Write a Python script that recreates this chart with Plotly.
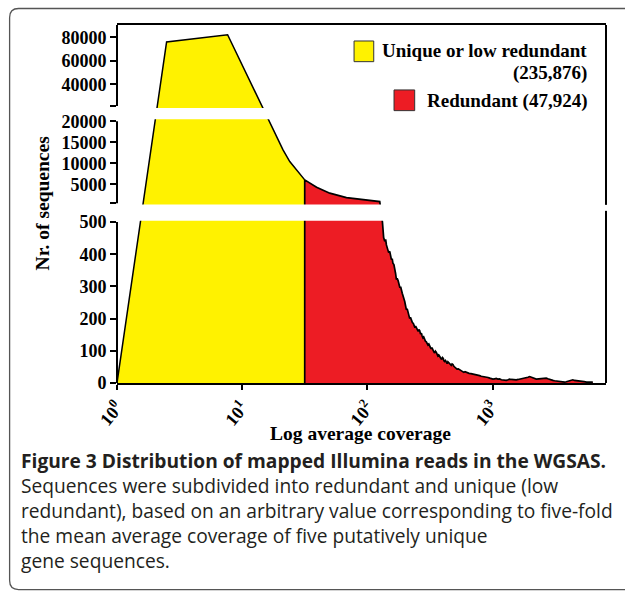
import plotly.graph_objects as go

# ---------------- data ----------------
THRESHOLD = 31.6  # coverage separating unique/low redundant from redundant

unique_cov = [1.0, 2.49, 7.65, 18.2, 21.2, 24.0, 28.0, 31.6]
unique_cnt = [0, 76000, 82200, 17500, 13190, 10405, 8024, 6048]

redundant_cov = [
    31.6, 39.3, 50.1, 68.1, 92.4, 125.6, 132, 135, 137.7, 140,
    142, 145, 148, 151, 155.7, 158, 160, 163, 165.5, 168,
    170.7, 173, 176, 179, 182, 184.5, 187.1, 190, 193, 196,
    198.9, 202, 205.1, 208, 212, 215, 218, 221, 224.9, 229,
    233, 236, 240, 243, 246.5, 251, 255, 258, 262, 266,
    270.3, 274, 278, 282, 287.2, 291, 296, 300, 305, 310,
    314.8, 318, 323, 328, 334, 340, 345.1, 350, 355, 360,
    366, 372, 378.3, 385, 392, 398, 404, 409, 414.7, 421,
    428, 434, 440, 447, 454.6, 461, 468, 475, 483.1, 491,
    500, 510, 520, 533, 546.3, 558, 570, 580, 590, 603,
    617.9, 633, 650, 672, 697.6, 718, 740, 765, 788.9, 812,
    840, 865, 892.2, 920, 950, 978, 1007, 1040, 1070, 1100,
    1139, 1175, 1210, 1250, 1289, 1330, 1369, 1410, 1450, 1500,
    1549, 1600, 1650, 1700, 1748, 1800, 1860, 1920, 1978, 2040,
    2100, 2170, 2237, 2340, 2450, 2570, 2688, 2770, 2850, 2940,
    3034, 3130, 3230, 3330, 3432, 3540, 3650, 3770, 3882, 3990,
    4100, 4240, 4382, 4510, 4650, 4800, 4957, 5180, 5400, 5650,
    5900, 6100, 6329]
redundant_cnt = [
    6048, 4310, 2881, 1833, 1286, 881, 500, 452, 440, 446,
    429, 418, 405, 409, 383, 386, 372, 368, 357, 341,
    321, 325, 318, 305, 296, 299, 284, 279, 270, 264,
    253, 240, 227, 231, 220, 209, 200, 204, 191, 188,
    185, 176, 172, 177, 171, 163, 160, 166, 163, 152,
    155, 146, 140, 143, 134, 130, 128, 121, 118, 121,
    114, 108, 106, 110, 100, 97, 93, 99, 96, 88,
    84, 87, 83, 77, 73, 79, 76, 69, 67, 70,
    64, 60, 66, 63, 62, 56, 55, 59, 57, 52,
    50, 47, 43, 44, 41, 39, 38, 35, 33, 35,
    33, 31, 30, 29, 28, 26, 24, 25, 23, 21,
    20, 21, 19, 17, 15, 13, 12, 13, 14, 12,
    13, 10, 9, 10, 8, 10, 12, 11, 10, 9,
    10, 11, 12, 12, 13, 15, 17, 18, 20, 18,
    15, 13, 12, 13, 14, 13, 15, 13, 11, 9,
    8, 7, 6, 5, 5, 4, 4, 3, 4, 5,
    7, 9, 10, 8, 7, 6, 5, 4, 4, 3,
    3, 2, 3]

x_tick_vals = [1, 10, 100, 1000]
x_tick_text = ["10<sup>0</sup>", "10<sup>1</sup>", "10<sup>2</sup>", "10<sup>3</sup>"]
y_ticks_top = [40000, 60000, 80000]
y_ticks_mid = [5000, 10000, 15000, 20000]
y_ticks_bottom = [0, 100, 200, 300, 400, 500]

legend_labels = ["Unique or low redundant", "(235,876)", "Redundant (47,924)"]
x_title = "Log average coverage"
y_title = "Nr. of sequences"
caption_title = "Figure 3 Distribution of mapped Illumina reads in the WGSAS."
caption_lines = ["Sequences were subdivided into redundant and unique (low",
                 "redundant), based on an arbitrary value corresponding to five-fold",
                 "the mean average coverage of five putatively unique",
                 "gene sequences."]

# ---------------- broken (segmented) y scale ----------------
W, H = 625, 596
PL, PR, PT, PB = 117, 606.5, 25, 383.3
PH = PB - PT
# (value_lo, value_hi, disp_lo, disp_hi) ; disp units = pixels above the x axis
SEG_BOTTOM = (0, 500, 0.0, 161.1)
SEG_MID = (500, 20000, 180.0, 261.9)
SEG_TOP = (21500, 90500, 277.3, PH)


def seg_map(v, seg):
    v0, v1, d0, d1 = seg
    return d0 + (v - v0) * (d1 - d0) / (v1 - v0)


def to_disp(v):
    if v <= 500:
        return seg_map(v, SEG_BOTTOM)
    if v <= 20000:
        return seg_map(v, SEG_MID)
    return seg_map(v, SEG_TOP)


def xp(px):
    return (px - PL) / (PR - PL)


def yp(py):
    return (PB - py) / PH


YELLOW = "#FFF200"
RED = "#ED1C24"
SERIF = "Liberation Serif"
SANS = "Open Sans"

fig = go.Figure()
fig.add_trace(go.Scatter(
    x=unique_cov, y=[to_disp(v) for v in unique_cnt],
    mode="lines", fill="tozeroy", fillcolor=YELLOW,
    line=dict(color="black", width=1.5), hoverinfo="skip"))
fig.add_trace(go.Scatter(
    x=[THRESHOLD] + redundant_cov, y=[0] + [to_disp(v) for v in redundant_cnt],
    mode="lines", fill="tozeroy", fillcolor=RED,
    line=dict(color="black", width=1.7), hoverinfo="skip"))

tickvals = ([seg_map(v, SEG_BOTTOM) for v in y_ticks_bottom] + [SEG_MID[2]] +
            [seg_map(v, SEG_MID) for v in y_ticks_mid] + [SEG_TOP[2]] +
            [seg_map(v, SEG_TOP) for v in y_ticks_top])
ticktext = ([str(v) for v in y_ticks_bottom] + [""] +
            [str(v) for v in y_ticks_mid] + [""] +
            [str(v) for v in y_ticks_top])

tickfont = dict(family=SERIF, size=18, color="black", weight="bold")

shapes = []
# right frame (full height, gap punched by a small white patch below)
shapes.append(dict(type="line", xref="paper", yref="paper", x0=1, x1=1, y0=0, y1=1,
                   line=dict(color="black", width=2), layer="above"))
shapes.append(dict(type="rect", xref="paper", yref="paper", x0=xp(604), x1=xp(609),
                   y0=yp(211), y1=yp(205), fillcolor="white", line=dict(width=0),
                   layer="above"))
# white gaps of the broken axis
for lo, hi in [(SEG_BOTTOM[3] + 1.2, SEG_MID[2] - 1.4), (SEG_MID[3] + 2.0, SEG_TOP[2] - 2.0)]:
    shapes.append(dict(type="rect", xref="paper", yref="y", x0=0.002, x1=0.995, y0=lo, y1=hi,
                       fillcolor="white", line=dict(width=0), layer="above"))
# y axis segments
for seg in (SEG_BOTTOM, SEG_MID, SEG_TOP):
    shapes.append(dict(type="line", xref="paper", yref="y", x0=0, x1=0, y0=seg[2], y1=seg[3],
                       line=dict(color="black", width=2), layer="above"))
# legend swatches
for (x0, y0, x1, y1, col) in [(354.3, 41, 374, 61.7, YELLOW), (394.3, 90, 415, 110.7, RED)]:
    shapes.append(dict(type="rect", xref="paper", yref="paper", x0=xp(x0), x1=xp(x1),
                       y0=yp(y1), y1=yp(y0), fillcolor=col,
                       line=dict(color="#333333", width=1)))
# outer rounded frame
fx0, fx1, fy0, fy1, r = 9.5, 680, 8.5, 590, 9


def P(px, py):
    return f"{xp(px):.5f},{yp(py):.5f}"


path = (f"M {P(fx1, fy0)} L {P(fx0 + r, fy0)} Q {P(fx0, fy0)} {P(fx0, fy0 + r)} "
        f"L {P(fx0, fy1 - r)} Q {P(fx0, fy1)} {P(fx0 + r, fy1)} L {P(fx1, fy1)}")
shapes.append(dict(type="path", xref="paper", yref="paper", path=path,
                   line=dict(color="#555555", width=1.3)))

annotations = []
# legend labels
for txt, xr, yc in [(legend_labels[0], 589, 51), (legend_labels[1], 589, 73.5),
                    (legend_labels[2], 589, 101.5)]:
    annotations.append(dict(text=txt, xref="paper", yref="paper", x=xp(xr), y=yp(yc),
                            xanchor="right", yanchor="middle", showarrow=False,
                            font=dict(family=SERIF, size=19, color="black", weight="bold")))
# axis titles
annotations.append(dict(text=x_title, xref="paper", yref="paper", x=xp(361), y=yp(434),
                        xanchor="center", yanchor="middle", showarrow=False,
                        font=dict(family=SERIF, size=19.5, color="black", weight="bold")))
annotations.append(dict(text=y_title, xref="paper", yref="paper", x=xp(42), y=yp(203.5),
                        xanchor="center", yanchor="middle", showarrow=False, textangle=-90,
                        font=dict(family=SERIF, size=19.5, color="black", weight="bold")))
# caption (one multi-line block)
caption_text = "<b>" + caption_title + "</b><br>" + "<br>".join(caption_lines)
annotations.append(dict(text=caption_text, xref="paper", yref="paper", x=xp(19), y=yp(510.5),
                        xanchor="left", yanchor="middle", align="left", showarrow=False,
                        font=dict(family=SANS, size=19.2, color="#231F20")))

fig.update_layout(
    width=W, height=H,
    margin=dict(l=PL, r=W - PR, t=PT, b=H - PB, pad=0),
    paper_bgcolor="white", plot_bgcolor="white",
    showlegend=False,
    xaxis=dict(type="log", range=[0, 3.9066], showline=True, linecolor="black", linewidth=2,
               mirror=True, ticks="outside", ticklen=5, tickwidth=1.5, tickcolor="black",
               tickvals=x_tick_vals, ticktext=x_tick_text, tickangle=-50,
               tickfont=tickfont, showgrid=False, zeroline=False),
    yaxis=dict(range=[0, PH], showline=False, ticks="outside", ticklen=6, tickwidth=1.5,
               tickcolor="black", tickvals=tickvals, ticktext=ticktext, tickfont=tickfont,
               showgrid=False, zeroline=False),
    shapes=shapes, annotations=annotations,
)

fig.write_html("out.html", config={"displayModeBar": False},
               post_script="document.body.style.margin='0';")
